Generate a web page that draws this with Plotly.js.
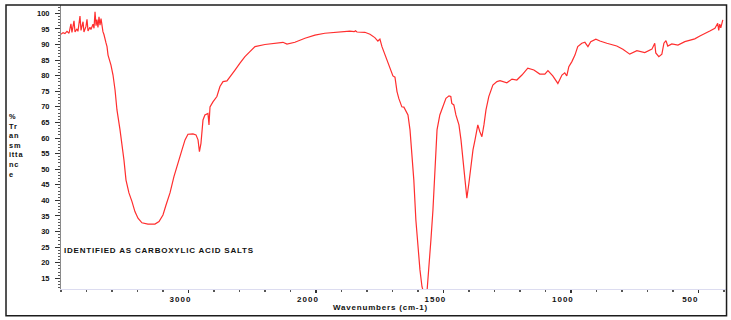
<!DOCTYPE html>
<html>
<head>
<meta charset="utf-8">
<script src="https://cdn.plot.ly/plotly-3.0.1.min.js"></script>
<style>
html,body{margin:0;padding:0;background:#fff;}
#chart{width:731px;height:320px;}
.xtick text{letter-spacing:1px;}
.annotation-text{letter-spacing:0.8px;}
</style>
</head>
<body>
<div id="chart"></div>
<script>
// Wavenumbers (cm-1)
const wavenumbers = [4000,3984,3969,3953,3937,3922,3914,3898,3890,3875,3867,3851,3843,3827,3820,3804,3796,3788,3773,3765,3749,3741,3733,3725,3718,3710,3702,3694,3686,3678,3671,3663,3655,3647,3639,3631,3608,3592,3576,3561,3537,3522,3506,3490,3467,3443,3420,3396,3365,3318,3263,3231,3200,3176,3145,3114,3082,3051,3027,3004,2965,2941,2925,2914,2902,2886,2871,2847,2839,2831,2808,2777,2753,2729,2698,2675,2635,2596,2557,2518,2478,2400,2282,2259,2227,2165,2086,2008,1965,1926,1906,1867,1850,1845,1839,1808,1788,1769,1757,1749,1741,1729,1714,1698,1690,1682,1675,1663,1655,1647,1639,1631,1624,1616,1608,1600,1592,1584,1576,1565,1557,1549,1541,1533,1529,1525,1514,1502,1490,1478,1471,1467,1459,1451,1439,1431,1424,1416,1408,1400,1392,1384,1376,1369,1365,1357,1349,1341,1333,1322,1306,1290,1278,1251,1231,1212,1192,1169,1145,1122,1102,1090,1071,1051,1035,1024,1016,1008,996,984,973,957,945,933,922,902,886,859,820,796,769,741,710,682,671,667,655,643,635,627,620,604,580,553,533,514,494,475,455,435,424,420,416,412,408,404];
// % Transmittance
const transmittance = [93.3,93.8,93.5,94.2,93.6,96.6,93.9,97.6,94.0,95.0,94.2,99.1,94.5,97.3,94.0,95.8,98.1,94.3,95.5,94.8,96.5,95.2,100.5,96.0,98.0,95.5,98.9,96.2,98.3,95.0,94.1,93.2,91.4,90.5,89.3,86.6,83.4,80.2,75.4,69.0,62.6,58.4,52.9,46.5,42.4,39.6,36.4,34.3,32.8,32.4,32.4,33.2,35.3,38.5,42.4,47.6,52.4,56.2,59.4,61.2,61.3,61.0,59.4,55.6,58.3,65.8,67.4,67.9,64.2,70.0,71.6,73.3,76.5,78.1,78.3,79.7,81.8,84.0,86.1,87.7,89.3,90.0,90.6,90.7,90.1,90.7,92.0,93.0,93.6,93.8,93.9,94.3,94.1,94.4,94.0,93.9,93.3,92.2,91.1,91.7,89.3,86.6,83.4,79.9,79.5,74.9,72.7,70.0,69.9,68.4,67.4,62.6,55.1,46.5,33.7,24.1,17.7,12.3,10.0,10.0,17.7,27.3,36.9,48.1,52.9,62.6,67.4,70.3,72.7,73.5,73.3,71.1,70.6,67.4,64.2,59.4,53.5,47.1,40.7,45.5,50.8,56.2,59.4,63.1,64.2,62.0,60.4,64.2,69.0,73.3,77.0,78.1,78.4,77.7,78.9,78.6,80.2,82.4,81.8,80.5,80.5,81.6,79.9,77.5,80.2,80.9,79.9,82.9,84.5,86.6,89.3,90.4,90.7,89.3,90.9,91.7,91.1,90.4,89.5,88.5,86.9,88.0,87.4,88.5,90.4,87.3,86.1,86.9,90.4,91.2,89.5,90.2,89.8,90.9,91.4,91.8,92.7,93.6,94.3,95.2,96.8,94.5,96.5,95.3,97.3,97.9];
// Axis tick labels
const xTickValues = [3000, 2000, 1500, 1000, 500];
const yTickValues = [15,20,25,30,35,40,45,50,55,60,65,70,75,80,85,90,95,100];
const noteText = 'IDENTIFIED AS CARBOXYLIC ACID SALTS';
const xTitleText = 'Wavenumbers (cm-1)';
const yTitleLines = ['%','Tr','an','sm','itta','nc','e'];

// Standard FTIR scale: region below 2000 cm-1 expanded 2x
function axisPos(wn){ return wn >= 2000 ? 4000 - wn : 6000 - 2 * wn; }

const xs = wavenumbers.map(axisPos);
const FONT = 'Liberation Sans, Arial, sans-serif';

const trace = {
  x: xs, y: transmittance, type: 'scatter', mode: 'lines',
  line: {color: '#ff2e2e', width: 1.2},
  hoverinfo: 'skip'
};

const layout = {
  width: 731, height: 320,
  margin: {l: 61, r: 5, t: 5, b: 31, pad: 0},
  paper_bgcolor: '#ffffff', plot_bgcolor: '#ffffff',
  showlegend: false,
  font: {family: FONT, color: '#111'},
  xaxis: {
    range: [0, 5217], fixedrange: true,
    showgrid: false, zeroline: false,
    showline: true, linecolor: '#dcdcf0', linewidth: 1,
    tickmode: 'array', tickvals: xTickValues.map(axisPos), ticktext: xTickValues.map(String),
    ticks: 'outside', ticklen: 3, tickwidth: 1.5, tickcolor: '#333',
    ticklabelshift: -8, ticklabelstandoff: -1,
    tickfont: {family: FONT, size: 8, weight: 'bold', color: '#111'},
    minor: {tickmode: 'linear', tick0: 0, dtick: 200, ticks: 'outside', ticklen: 1.5, tickwidth: 1.5, tickcolor: '#555', showgrid: false}
  },
  yaxis: {
    range: [11.57, 102.66], fixedrange: true,
    showgrid: false, zeroline: false,
    showline: true, linecolor: '#8a8a8a', linewidth: 1,
    tickmode: 'array', tickvals: yTickValues, ticktext: yTickValues.map(String),
    ticks: 'outside', ticklen: 5, tickwidth: 1, tickcolor: '#333',
    ticklabelstandoff: 4,
    tickfont: {family: FONT, size: 7.5, weight: 'bold', color: '#111'},
    minor: {tickmode: 'linear', tick0: 0, dtick: 1, ticks: 'outside', ticklen: 2, tickwidth: 1, tickcolor: '#555', showgrid: false}
  },
  shapes: [{
    type: 'rect', xref: 'paper', yref: 'paper',
    x0: -0.0827, x1: 1.0008, y0: -0.094, y1: 1.0,
    line: {color: '#1c1c1c', width: 1.5}, fillcolor: 'rgba(0,0,0,0)'
  }],
  annotations: [
    {text: noteText, xref: 'paper', yref: 'paper', x: 0.002, y: 0.1349,
     xanchor: 'left', yanchor: 'middle', showarrow: false,
     font: {family: FONT, size: 8, weight: 'bold', color: '#111'}},
    {text: xTitleText, xref: 'paper', yref: 'paper', x: 0.4797, y: -0.066,
     xanchor: 'center', yanchor: 'middle', showarrow: false,
     font: {family: FONT, size: 8, weight: 'bold', color: '#111'}},
    {text: yTitleLines.join('<br>'), xref: 'paper', yref: 'paper', x: -0.081, y: 0.632,
     xanchor: 'left', yanchor: 'top', align: 'left', showarrow: false,
     font: {family: FONT, size: 7.4, weight: 'bold', color: '#111'}}
  ]
};

Plotly.newPlot('chart', [trace], layout, {displayModeBar: false, staticPlot: true});
</script>
</body>
</html>
